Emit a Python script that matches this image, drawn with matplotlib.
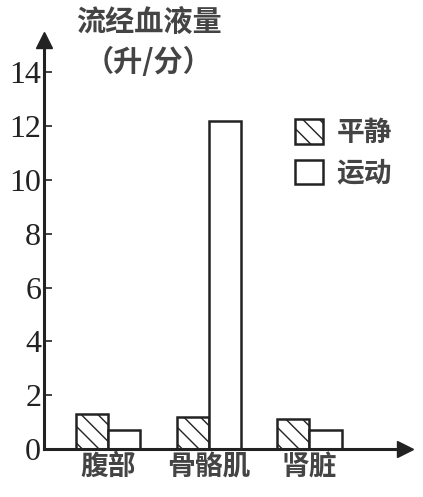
import matplotlib
matplotlib.use('Agg')
import matplotlib.pyplot as plt
import numpy as np
from matplotlib.patches import Patch

# data
organs = ['腹部', '骨骼肌', '肾脏']
rest = [1.3, 1.2, 1.1]
exercise = [0.7, 12.2, 0.7]
yticks = [0, 2, 4, 6, 8, 10, 12, 14]

cjk = ['Noto Sans CJK SC', 'DejaVu Sans']
num_font = 'Liberation Serif'
line_c = '#222222'
text_c = '#444444'
plt.rcParams['hatch.color'] = '#666666'
plt.rcParams['hatch.linewidth'] = 1.0

fig = plt.figure(figsize=(4.23, 4.97), dpi=100)
ax = fig.add_axes([44 / 423, 48 / 497, (405 - 44) / 423, (449 - 40) / 497])

x = np.arange(len(organs))
w = 0.32
ax.bar(x - w / 2, rest, w, facecolor='white', edgecolor=line_c, hatch='\\\\',
       linewidth=1.8, label='平静')
ax.bar(x + w / 2, exercise, w, facecolor='white', edgecolor=line_c,
       linewidth=1.8, label='运动')

ax.set_xlim(-0.637, 2.95)
ax.set_ylim(0, 15.2)
ax.set_yticks(yticks)
ax.set_yticklabels([str(t) for t in yticks], fontfamily=num_font, fontsize=23,
                   color='#222222')
ax.tick_params(axis='y', direction='in', length=6, width=1.2, color=line_c, pad=2)
ax.set_xticks(x)
ax.set_xticklabels(organs, fontfamily=cjk, fontsize=20, fontweight='bold', color=text_c)
ax.tick_params(axis='x', length=0, pad=3)

for s in ['top', 'right']:
    ax.spines[s].set_visible(False)
for s in ['left', 'bottom']:
    ax.spines[s].set_linewidth(2.2)
    ax.spines[s].set_color(line_c)

# arrow heads on the axes
ax.plot([0], [1], marker='^', markersize=11, color=line_c, transform=ax.transAxes, clip_on=False)
ax.plot([1], [0], marker='>', markersize=11, color=line_c, transform=ax.transAxes, clip_on=False)

fig.text(149 / 423, 1 - 22 / 497, '流经血液量', fontfamily=cjk, fontsize=21, fontweight='bold',
         ha='center', va='center', color=text_c)
fig.text(149 / 423, 1 - 62 / 497, '（升/分）', fontfamily=cjk, fontsize=21, fontweight='bold',
         ha='center', va='center', color=text_c)

handles = [Patch(facecolor='white', edgecolor=line_c, hatch='\\\\', linewidth=1.8),
           Patch(facecolor='white', edgecolor=line_c, linewidth=1.8)]
fig.legend(handles, ['平静', '运动'], loc='upper left', bbox_to_anchor=(270 / 423, 1 - 94 / 497),
           frameon=False, prop={'family': cjk, 'size': 20, 'weight': 'bold'},
           handlelength=1.0, handleheight=1.0, labelspacing=0.45, handletextpad=0.5,
           labelcolor=text_c)

fig.savefig('out.png', dpi=100)
